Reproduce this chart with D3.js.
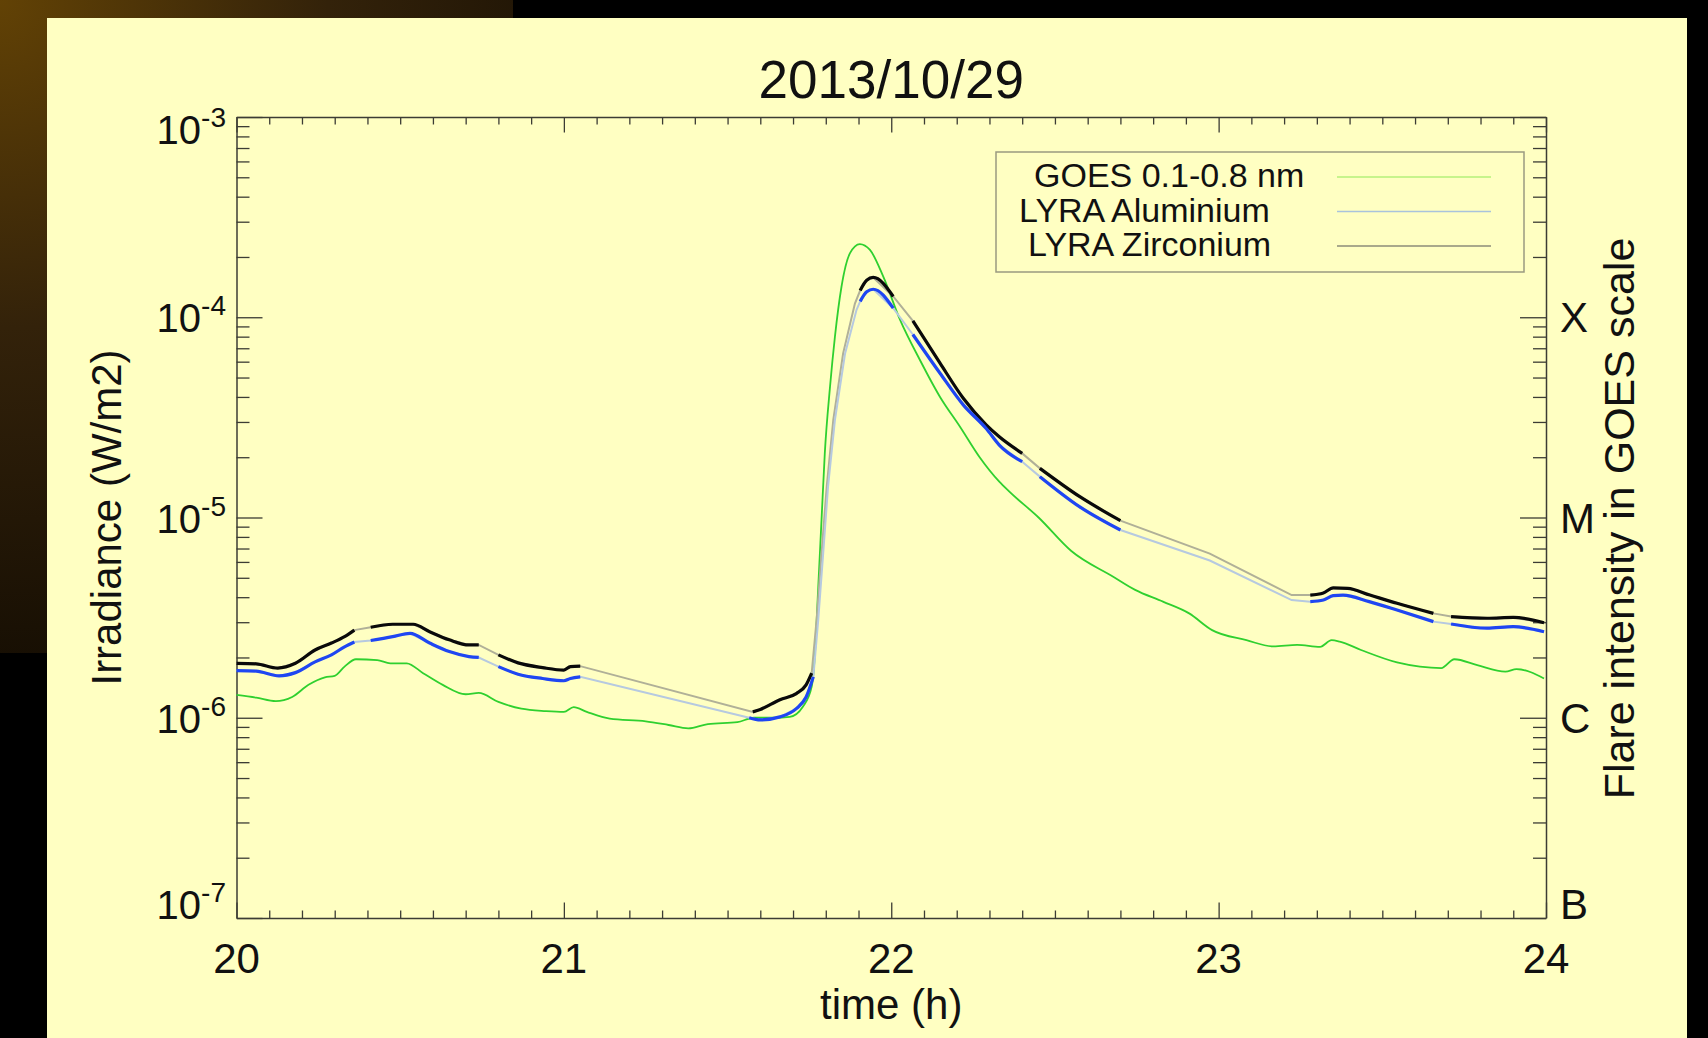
<!DOCTYPE html>
<html>
<head>
<meta charset="utf-8">
<script src="https://cdn.jsdelivr.net/npm/d3@7"></script>
<style>
  body { margin: 0; background: #000; }
  svg { display: block; font-family: "Liberation Sans", Arial, sans-serif; }
</style>
</head>
<body>
<div id="chart"></div>
<script>
// GOES 0.1-0.8 nm  (time in hours UT, flux in W/m2)
var goesTime = [20.00, 20.06, 20.12, 20.17, 20.22, 20.27, 20.30, 20.33, 20.365, 20.43, 20.47, 20.52, 20.57, 20.63,
  20.70, 20.74, 20.80, 20.87, 20.945, 21.00, 21.03, 21.07, 21.14, 21.25, 21.32, 21.38, 21.44, 21.53, 21.58, 21.64,
  21.69, 21.73, 21.757, 21.767, 21.777, 21.787, 21.797, 21.813, 21.828, 21.848, 21.874, 21.904, 21.935, 21.976,
  22.027, 22.088, 22.149, 22.21, 22.27, 22.33, 22.36, 22.45, 22.55, 22.678, 22.745, 22.83, 22.91, 22.98, 23.085,
  23.167, 23.24, 23.31, 23.345, 23.37, 23.435, 23.545, 23.615, 23.68, 23.72, 23.79, 23.876, 23.91, 23.994];
var goesFlux = [1.30e-6, 1.26e-6, 1.21e-6, 1.27e-6, 1.46e-6, 1.59e-6, 1.62e-6, 1.80e-6, 1.96e-6, 1.94e-6, 1.87e-6, 1.87e-6, 1.67e-6, 1.46e-6,
  1.31e-6, 1.33e-6, 1.20e-6, 1.11e-6, 1.08e-6, 1.07e-6, 1.13e-6, 1.07e-6, 0.99e-6, 0.96e-6, 0.92e-6, 0.885e-6, 0.93e-6, 0.95e-6, 1.0e-6, 1.0e-6,
  1.01e-6, 1.135e-6, 1.43e-6, 2.1e-6, 4.5e-6, 9.7e-6, 2.09e-5, 4.5e-5, 8.0e-5, 1.42e-4, 2.09e-4, 2.32e-4, 2.17e-4, 1.59e-4,
  9.7e-5, 6.1e-5, 4.0e-5, 2.84e-5, 2.0e-5, 1.51e-5, 1.35e-5, 1.0e-5, 6.8e-6, 5.06e-6, 4.35e-6, 3.8e-6, 3.32e-6, 2.74e-6, 2.44e-6,
  2.27e-6, 2.31e-6, 2.26e-6, 2.44e-6, 2.40e-6, 2.18e-6, 1.89e-6, 1.80e-6, 1.77e-6, 1.96e-6, 1.83e-6, 1.70e-6, 1.75e-6, 1.57e-6];

// LYRA Zirconium channel
var zrTime = [20.00, 20.06, 20.126, 20.18, 20.24, 20.29, 20.33, 20.36, 20.41, 20.477, 20.54, 20.59, 20.65, 20.71, 20.74,
  20.80, 20.86, 20.935, 21.00, 21.02, 21.05, 21.577, 21.60, 21.66, 21.71, 21.74, 21.757, 21.772, 21.787, 21.803,
  21.823, 21.853, 21.889, 21.905, 21.925, 21.945, 22.006, 22.066, 22.149, 22.22, 22.29, 22.33, 22.40, 22.454, 22.576,
  22.70, 22.973, 23.223, 23.28, 23.32, 23.35, 23.394, 23.462, 23.545, 23.656, 23.71, 23.82, 23.90, 23.994];
var zrFlux = [1.87e-6, 1.86e-6, 1.77e-6, 1.87e-6, 2.18e-6, 2.36e-6, 2.54e-6, 2.74e-6, 2.83e-6, 2.93e-6, 2.93e-6, 2.69e-6, 2.45e-6, 2.31e-6, 2.31e-6,
  2.06e-6, 1.88e-6, 1.78e-6, 1.73e-6, 1.80e-6, 1.81e-6, 1.07e-6, 1.10e-6, 1.23e-6, 1.32e-6, 1.46e-6, 1.67e-6, 3.08e-6, 6.6e-6, 1.43e-5,
  3.07e-5, 6.6e-5, 1.17e-4, 1.36e-4, 1.53e-4, 1.58e-4, 1.27e-4, 9.6e-5, 5.9e-5, 3.94e-5, 2.9e-5, 2.53e-5, 2.09e-5, 1.76e-5, 1.27e-5,
  9.64e-6, 6.6e-6, 4.1e-6, 4.1e-6, 4.2e-6, 4.45e-6, 4.43e-6, 4.1e-6, 3.73e-6, 3.32e-6, 3.2e-6, 3.14e-6, 3.17e-6, 2.98e-6];

// LYRA Aluminium channel
var alTime = [20.00, 20.06, 20.13, 20.18, 20.24, 20.29, 20.33, 20.36, 20.41, 20.477, 20.53, 20.59, 20.65, 20.71, 20.74,
  20.80, 20.86, 20.935, 21.00, 21.02, 21.05, 21.566, 21.60, 21.66, 21.71, 21.74, 21.762, 21.777, 21.792, 21.807,
  21.828, 21.859, 21.894, 21.905, 21.925, 21.945, 22.006, 22.066, 22.149, 22.22, 22.29, 22.33, 22.40, 22.454, 22.576,
  22.70, 22.973, 23.223, 23.28, 23.32, 23.35, 23.38, 23.46, 23.545, 23.656, 23.71, 23.82, 23.90, 23.994];
var alFlux = [1.72e-6, 1.71e-6, 1.62e-6, 1.68e-6, 1.90e-6, 2.06e-6, 2.26e-6, 2.39e-6, 2.43e-6, 2.54e-6, 2.64e-6, 2.36e-6, 2.14e-6, 2.02e-6, 2.00e-6,
  1.80e-6, 1.65e-6, 1.57e-6, 1.53e-6, 1.57e-6, 1.60e-6, 1.0e-6, 0.975e-6, 1.01e-6, 1.11e-6, 1.27e-6, 1.60e-6, 3.08e-6, 6.6e-6, 1.43e-5,
  3.07e-5, 6.6e-5, 1.09e-4, 1.2e-4, 1.34e-4, 1.38e-4, 1.11e-4, 8.2e-5, 5.25e-5, 3.65e-5, 2.78e-5, 2.30e-5, 1.90e-5, 1.60e-5, 1.13e-5,
  8.66e-6, 6.1e-6, 3.87e-6, 3.8e-6, 3.87e-6, 4.07e-6, 4.1e-6, 3.8e-6, 3.45e-6, 3.02e-6, 2.94e-6, 2.8e-6, 2.85e-6, 2.69e-6];

// intervals with no LYRA data (only the thin interpolated line is shown)
var lyraGaps = [[20.36, 20.41], [20.74, 20.80], [21.05, 21.57], [21.757, 21.90], [22.006, 22.066],
  [22.40, 22.454], [22.70, 23.223], [23.223, 23.28], [23.656, 23.71]];

var hourTicks = [20, 21, 22, 23, 24];
var decadeTicks = [1e-7, 1e-6, 1e-5, 1e-4, 1e-3];
var decadeLabels = ["-7", "-6", "-5", "-4", "-3"];
var goesClasses = ["B", "C", "M", "X"];
var goesClassLevels = [1e-7, 1e-6, 1e-5, 1e-4];
var legendNames = ["GOES 0.1-0.8 nm", "LYRA Aluminium", "LYRA Zirconium"];

var W = 1708, H = 1038;
var plotLeft = 236.5, plotRight = 1546, plotTop = 117, plotBottom = 918;

var svg = d3.select("#chart").append("svg").attr("width", W).attr("height", H);

// slide background: brown glow top-left, pale yellow panel
var defs = svg.append("defs");
var glow = defs.append("radialGradient").attr("id", "glow")
  .attr("gradientUnits", "userSpaceOnUse").attr("cx", 0).attr("cy", 0).attr("r", 820);
glow.append("stop").attr("offset", 0).attr("stop-color", "#624205");
glow.append("stop").attr("offset", 0.4).attr("stop-color", "#33220a");
glow.append("stop").attr("offset", 1).attr("stop-color", "#0a0600");
svg.append("rect").attr("x", 0).attr("y", 0).attr("width", 513).attr("height", 653).attr("fill", "url(#glow)");
svg.append("rect").attr("x", 47).attr("y", 18).attr("width", 1640).attr("height", 1030).attr("fill", "#ffffc2");

var x = d3.scaleLinear().domain([20, 24]).range([plotLeft, plotRight]);
var y = d3.scaleLog().domain([1e-7, 1e-3]).range([plotBottom, plotTop]);

var axisColor = "#3c3c34";
var xMinor = x.ticks(40);
var yMinor = y.ticks();
function isHour(d) { return Math.abs(d - Math.round(d)) < 1e-6; }
function isDecade(d) { var l = Math.log10(d); return Math.abs(l - Math.round(l)) < 1e-6; }

function styleAxis(g, major, majorLen, attr) {
  g.select(".domain").attr("stroke", axisColor).attr("stroke-width", 1.5);
  g.selectAll(".tick line").attr("stroke", axisColor).attr("stroke-width", 1.3)
    .filter(major).attr(attr, majorLen);
}

svg.append("g").attr("transform", "translate(0," + plotBottom + ")")
  .call(d3.axisBottom(x).tickValues(xMinor).tickSizeInner(-7.5).tickSizeOuter(0).tickFormat(""))
  .call(styleAxis, isHour, -15.5, "y2");
svg.append("g").attr("transform", "translate(0," + plotTop + ")")
  .call(d3.axisTop(x).tickValues(xMinor).tickSizeInner(-7.5).tickSizeOuter(0).tickFormat(""))
  .call(styleAxis, isHour, 15.5, "y2");
svg.append("g").attr("transform", "translate(" + plotLeft + ",0)")
  .call(d3.axisLeft(y).tickValues(yMinor).tickSizeInner(-13).tickSizeOuter(0).tickFormat(""))
  .call(styleAxis, isDecade, 26, "x2");
svg.append("g").attr("transform", "translate(" + plotRight + ",0)")
  .call(d3.axisRight(y).tickValues(yMinor).tickSizeInner(-13).tickSizeOuter(0).tickFormat(""))
  .call(styleAxis, isDecade, -26, "x2");

// tick labels
svg.append("g").selectAll("text").data(hourTicks).enter().append("text")
  .attr("x", function (d) { return x(d); })
  .attr("y", plotBottom + 55)
  .attr("text-anchor", "middle").attr("font-size", 42).attr("fill", "#111")
  .text(function (d) { return d; });

var yl = svg.append("g").selectAll("text").data(decadeTicks).enter().append("text")
  .attr("x", 226)
  .attr("y", function (d, i) {
    var nudge = i === 0 ? -14 : (i === decadeTicks.length - 1 ? 12 : 0);
    return y(d) + 15 + nudge;
  })
  .attr("text-anchor", "end").attr("font-size", 40).attr("fill", "#111");
yl.append("tspan").text("10");
yl.append("tspan").attr("dy", -17).attr("font-size", 28).text(function (d, i) { return decadeLabels[i]; });

svg.append("g").selectAll("text").data(goesClassLevels).enter().append("text")
  .attr("x", 1560)
  .attr("y", function (d, i) { return y(d) + 15 + (i === 0 ? -14 : 0); })
  .attr("font-size", 42).attr("fill", "#111")
  .text(function (d, i) { return goesClasses[i]; });

// titles
var midX = (plotLeft + plotRight) / 2, midY = (plotTop + plotBottom) / 2;
svg.append("text").attr("x", midX).attr("y", 98)
  .attr("text-anchor", "middle").attr("font-size", 53).attr("fill", "#111").text("2013/10/29");
svg.append("text").attr("x", midX).attr("y", 1019)
  .attr("text-anchor", "middle").attr("font-size", 42).attr("fill", "#111").text("time (h)");
svg.append("text").attr("transform", "translate(121," + midY + ") rotate(-90)")
  .attr("text-anchor", "middle").attr("font-size", 42).attr("fill", "#111").text("Irradiance (W/m2)");
svg.append("text").attr("transform", "translate(1634," + (midY + 1) + ") rotate(-90)")
  .attr("text-anchor", "middle").attr("font-size", 43).attr("fill", "#111").text("Flare intensity in GOES scale");

// curves
function pts(ts, vs) { return ts.map(function (t, i) { return { t: t, v: vs[i] }; }); }
function inGap(t) { return lyraGaps.some(function (g) { return t > g[0] && t < g[1]; }); }
function runs(p) {
  var out = [], cur = [p[0]];
  for (var i = 1; i < p.length; i++) {
    if (inGap((p[i - 1].t + p[i].t) / 2)) {
      if (cur.length > 1) out.push(cur);
      cur = [p[i]];
    } else cur.push(p[i]);
  }
  if (cur.length > 1) out.push(cur);
  return out;
}

var line = d3.line().curve(d3.curveMonotoneX)
  .x(function (d) { return x(d.t); }).y(function (d) { return y(d.v); });
// the interpolation across data gaps is straight
var gapLine = d3.line()
  .x(function (d) { return x(d.t); }).y(function (d) { return y(d.v); });
var plot = svg.append("g");

var goes = pts(goesTime, goesFlux), zr = pts(zrTime, zrFlux), al = pts(alTime, alFlux);

plot.append("path").datum(goes).attr("d", line)
  .attr("fill", "none").attr("stroke", "#2fd02f").attr("stroke-width", 1.8);

plot.append("path").datum(zr).attr("d", gapLine)
  .attr("fill", "none").attr("stroke", "#b0b098").attr("stroke-width", 2);
plot.append("path").datum(al).attr("d", gapLine)
  .attr("fill", "none").attr("stroke", "#b6c9e0").attr("stroke-width", 2);

plot.selectAll(".zr").data(runs(zr)).enter().append("path").attr("class", "zr")
  .attr("d", line).attr("fill", "none").attr("stroke", "#0a0a0a").attr("stroke-width", 3.2)
  .attr("stroke-linejoin", "round");
plot.selectAll(".al").data(runs(al)).enter().append("path").attr("class", "al")
  .attr("d", line).attr("fill", "none").attr("stroke", "#1f46f2").attr("stroke-width", 3.2)
  .attr("stroke-linejoin", "round");

// legend
var legendColors = ["#b4f07a", "#a9c3dc", "#8c8c78"];
var legendTextX = [1034, 1019, 1028];
var lg = svg.append("g");
lg.append("rect").attr("x", 996).attr("y", 152).attr("width", 528).attr("height", 120)
  .attr("fill", "none").attr("stroke", "#9a9a80").attr("stroke-width", 1.5);
legendNames.forEach(function (name, i) {
  var ly = 177 + i * 34.5;
  lg.append("text").attr("x", legendTextX[i]).attr("y", ly + 10)
    .attr("font-size", 34).attr("fill", "#111").text(name);
  lg.append("line").attr("x1", 1337).attr("x2", 1491).attr("y1", ly).attr("y2", ly)
    .attr("stroke", legendColors[i]).attr("stroke-width", 1.4);
});
</script>
</body>
</html>
